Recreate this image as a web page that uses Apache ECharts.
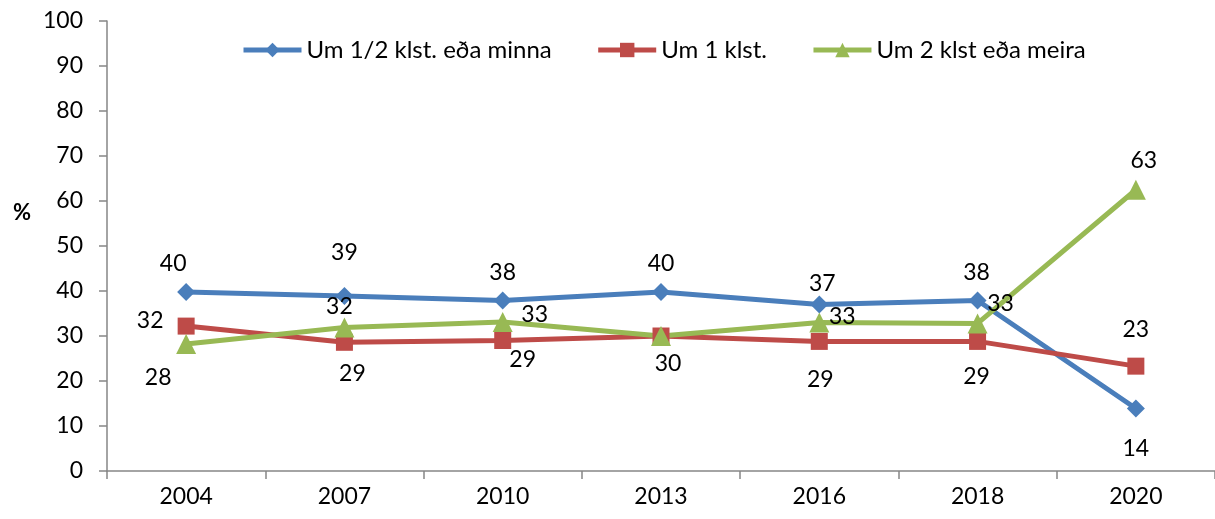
<!DOCTYPE html>
<html><head><meta charset="utf-8">
<script src="https://cdn.jsdelivr.net/npm/echarts@6/dist/echarts.min.js"></script>
<style>html,body{margin:0;padding:0;background:#fff}#c{width:1215px;height:519px}</style>
</head><body><div id="c"></div>
<script>
const categories = ['2004','2007','2010','2013','2016','2018','2020'];
const seriesNames = ['Um 1/2 klst. eða minna','Um 1 klst.','Um 2 klst eða meira'];
const halfHour = [39.8, 38.9, 37.9, 39.8, 37.0, 37.9, 13.9];
const oneHour = [32.2, 28.6, 29.0, 30.0, 28.8, 28.8, 23.3];
const twoHours = [28.2, 31.9, 33.1, 30.0, 33.0, 32.8, 62.5];
const yTicks = [0,10,20,30,40,50,60,70,80,90,100];

// label offsets (dx, dy) from point centres, and visibility
const offHalf = [[-13,-28],[0,-43],[0,-28],[0,-28],[3,-21],[-1,-28],[0,40]];
const offOne = [[-36,-6],[8,31],[20,19],[7,28],[1,38],[-1,35],[0,-37]];
const offTwo = [[-28,33],[-5,-21],[32,-7],[7,28],[23,-6],[23,-20],[8,-29]];
const showTwo = [true,true,true,false,true,true,true];

const font = 'Lato, "Open Sans", sans-serif';
const fs = 23;
function mk(vals, offs, shows){
  return vals.map((v,i)=>({value:v, label:{show: shows? shows[i]:true, position:'inside', offset:offs[i]}}));
}
const colors = ['#4A7EBB','#BE4B48','#98B954'];
const symbols = ['diamond','rect','triangle'];
const symSizes = [18,17,20];
const datas = [mk(halfHour,offHalf), mk(oneHour,offOne), mk(twoHours,offTwo,showTwo)];

const chart = echarts.init(document.getElementById('c'));
chart.setOption({
  animation:false,
  color: colors,
  textStyle:{fontFamily:font},
  grid:{left:107, right:0, top:21, height:450, containLabel:false},
  legend:{
    top:33, left:236, itemWidth:58, itemHeight:18, itemGap:44,
    lineStyle:{width:5},
    textStyle:{fontFamily:font, fontSize:24, color:'#000'},
    data: seriesNames
  },
  graphic:[{type:'text', left:13, top:202, style:{text:'%', font:'bold 22px '+font, fill:'#000'}}],
  xAxis:{
    type:'category', data:categories, boundaryGap:true,
    axisLine:{lineStyle:{color:'#868686', width:1.5}},
    axisTick:{show:true, length:8, lineStyle:{color:'#868686', width:1.5}},
    axisLabel:{color:'#000', fontSize:fs, fontFamily:font, margin:14},
    splitLine:{show:false}
  },
  yAxis:{
    type:'value', min:yTicks[0], max:yTicks[yTicks.length-1], interval:10,
    axisLine:{show:true, lineStyle:{color:'#868686', width:1.5}},
    axisTick:{show:true, length:8, lineStyle:{color:'#868686', width:1.5}},
    axisLabel:{color:'#000', fontSize:fs, fontFamily:font, margin:24},
    splitLine:{show:false}
  },
  series: seriesNames.map((n,k)=>({
    name:n, type:'line', data:datas[k],
    symbol:symbols[k], symbolSize:symSizes[k], showAllSymbol:true,
    lineStyle:{width:5, color:colors[k]},
    itemStyle:{color:colors[k]},
    label:{color:'#000', fontSize:fs, fontFamily:font, formatter:p=>Math.round(p.value)},
    emphasis:{disabled:true}
  }))
});
</script></body></html>
